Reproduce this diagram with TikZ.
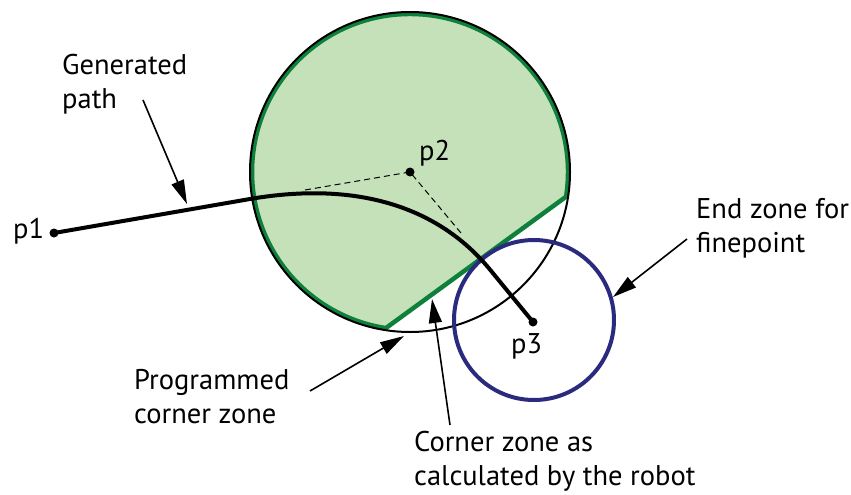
\documentclass[tikz,border=0pt]{standalone}
\usepackage{fontspec}
\setmainfont{PT Sans}
\usetikzlibrary{arrows.meta}
\definecolor{zonefill}{RGB}{197,225,186}
\definecolor{zonegreen}{RGB}{14,128,60}
\definecolor{zoneblue}{RGB}{42,42,126}
\tikzset{
  dotnode/.style={circle,fill=black,inner sep=0pt,minimum size=9pt},
  lbl/.style={inner sep=0pt,font=\fontsize{28.5}{34}\selectfont,align=left},
  callout/.style={line width=1.6pt,-{Triangle[length=24pt,width=13pt]}},
  pathline/.style={line width=4pt},
  guide/.style={line width=1pt,dash pattern=on 6pt off 4pt},
}
\begin{document}
\begin{tikzpicture}[x=1pt,y=-1pt]
\useasboundingbox (0,0) rectangle (851,495);
% points
\coordinate (c2) at (410,172);
% programmed corner zone / calculated corner zone
\fill[zonefill] (c2) ++(9:158) arc[start angle=9,end angle=-261.2,radius=158] -- cycle;
\draw[zonegreen,line width=4.5pt,line join=round] (c2) ++(9:158) arc[start angle=9,end angle=-261.2,radius=158] -- cycle;
\draw[line width=2pt] (c2) circle[radius=160];
% end zone
\draw[zoneblue,line width=4pt] (534,320) circle[radius=80];
% guides
\coordinate (g1) at (305,190);
\coordinate (g2) at (461,233);
\node[dotnode] (p2) at (c2) {};
\draw[guide] (g1) -- (p2.center) -- (g2);
% generated path
\node[dotnode] (p1) at (54,233) {};
\node[dotnode] (p3) at (533,322) {};
\coordinate (A) at (250,199);
\coordinate (C1) at (358.5,180.4);
\coordinate (C2) at (439.3,207.8);
\coordinate (B) at (490,269.6);
\draw[pathline] (p1.center) -- (A) .. controls (C1) and (C2) .. (B) -- (p3.center);
% point labels
\node[lbl,anchor=base west] (t1) at (13,238) {p1};
\node[lbl,anchor=base west] (t2) at (419,160) {p2};
\node[lbl,anchor=base west] (t3) at (511,353) {p3};
% callout labels (anchored at the baseline of the last line)
\node[lbl,anchor=base west] (tgen) at (62,108) {Generated\\path};
\node[lbl,anchor=base west] (tprog) at (134,423) {Programmed\\corner zone};
\node[lbl,anchor=base west] (tcalc) at (414,485) {Corner zone as\\calculated by the robot};
\node[lbl,anchor=base west] (tend) at (696,252) {End zone for\\finepoint};
% callout arrows
\coordinate (s1) at (143,100); \coordinate (e1) at (187,204);
\coordinate (s2) at (310,391); \coordinate (e2) at (404,336);
\coordinate (s3) at (450,425); \coordinate (e3) at (432,299);
\coordinate (s4) at (687,239); \coordinate (e4) at (613,297);
\draw[callout] (s1) -- (e1);
\draw[callout] (s2) -- (e2);
\draw[callout] (s3) -- (e3);
\draw[callout] (s4) -- (e4);
\end{tikzpicture}
\end{document}
